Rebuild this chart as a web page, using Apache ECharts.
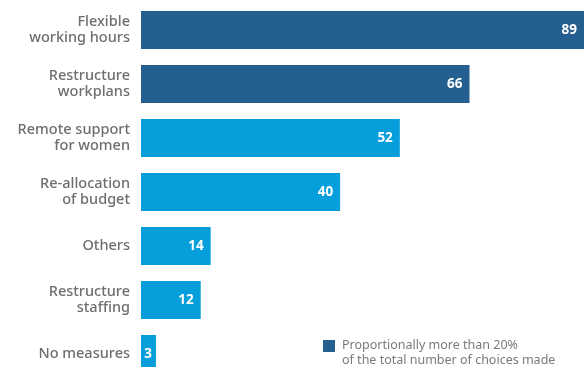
<!DOCTYPE html>
<html>
<head>
<meta charset="utf-8">
<script src="https://cdn.jsdelivr.net/npm/echarts@6/dist/echarts.min.js"></script>
<style>html,body{margin:0;padding:0;background:#fff;}#c{width:587px;height:367px;}</style>
</head>
<body>
<div id="c"></div>
<script>
const categories = ["Flexible\nworking hours", "Restructure\nworkplans", "Remote support\nfor women", "Re-allocation\nof budget", "Others", "Restructure\nstaffing", "No measures"];
const values = [89, 66, 52, 40, 14, 12, 3];
const aboveTwentyPct = [true, true, false, false, false, false, false];
const legendText = "Proportionally more than 20%\nof the total number of choices made";

const DARK = "#255f90";
const LIGHT = "#079fdb";
const chart = echarts.init(document.getElementById('c'), null, {renderer: 'canvas'});
chart.setOption({
  animation: false,
  grid: {left: 141, top: 3, height: 378, width: 443, containLabel: false, outerBoundsMode: 'none'},
  xAxis: {type: 'value', min: 0, max: 89, show: false},
  yAxis: {
    type: 'category', inverse: true, data: categories,
    axisLine: {show: false}, axisTick: {show: false},
    axisLabel: {margin: 11, color: '#6e6e6e', fontFamily: 'Noto Sans', fontWeight: 500, fontSize: 14.5, lineHeight: 16, align: 'right'}
  },
  series: [{
    type: 'bar', barWidth: 38,
    data: values.map((v, i) => ({
      value: v,
      itemStyle: {color: aboveTwentyPct[i] ? DARK : LIGHT},
      label: v < 5 ? {distance: 4} : undefined
    })),
    label: {show: true, position: 'insideRight', distance: 7, color: '#fff', fontFamily: 'Noto Sans', fontWeight: 'bold', fontSize: 13.5}
  }],
  graphic: [
    {type: 'rect', left: 323, top: 340, shape: {width: 12, height: 12}, style: {fill: DARK}},
    {type: 'text', left: 342, top: 338, style: {text: legendText, fill: '#7a7a7a', font: '12.5px "Noto Sans"', lineHeight: 15}}
  ]
});
</script>
</body>
</html>
